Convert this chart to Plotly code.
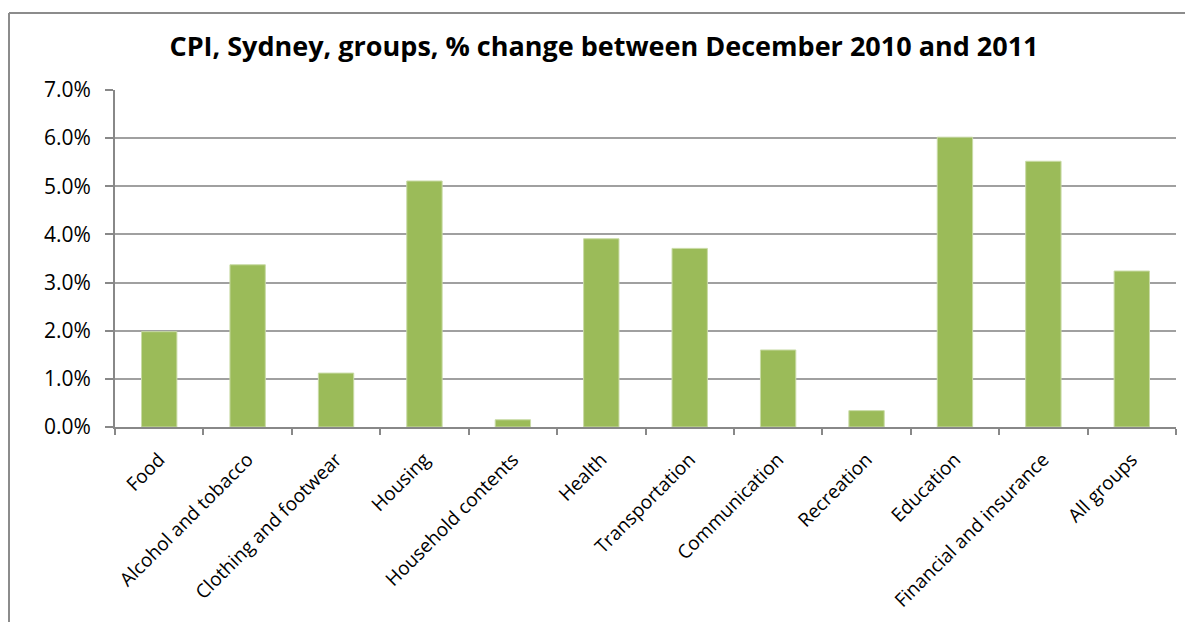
import plotly.graph_objects as go

categories = ["Food", "Alcohol and tobacco", "Clothing and footwear", "Housing",
              "Household contents", "Health", "Transportation", "Communication",
              "Recreation", "Education", "Financial and insurance", "All groups"]
values = [0.0198, 0.0337, 0.0112, 0.0511, 0.0015, 0.0391, 0.0371, 0.0160,
          0.0034, 0.0602, 0.0552, 0.0324]
yticks = [0.0, 0.01, 0.02, 0.03, 0.04, 0.05, 0.06, 0.07]
ytick_labels = ["0.0%", "1.0%", "2.0%", "3.0%", "4.0%", "5.0%", "6.0%", "7.0%"]
title = "CPI, Sydney, groups, % change between December 2010 and 2011"

# page has an 8px body margin
OFF = 8
W, H = 1193 - OFF, 630 - 2 * OFF
L = 115 - OFF
R = W - (1176 - OFF)
T = 90 - OFF
B = H - (427 - OFF)
pw, ph = W - L - R, H - T - B

fig = go.Figure(go.Bar(
    x=categories, y=values,
    marker=dict(color="#9BBB59", line=dict(color="#c9dba6", width=1)),
))

# frame: top edge and left edge only (right/bottom lie outside the window)
bx0 = (1 - L) / pw
bx1 = (W + 80 - L) / pw
by0 = (T + ph - (H + 40)) / ph
by1 = (T + ph - (13 - OFF)) / ph
frame = dict(color="#8c8c8c", width=2)

fig.update_layout(
    width=W, height=H,
    margin=dict(l=L, r=R, t=T, b=B),
    paper_bgcolor="white", plot_bgcolor="white",
    bargap=0.6,
    showlegend=False,
    font=dict(family="Open Sans, sans-serif", color="black"),
    title=dict(text="<b>" + title + "</b>", x=(604 - OFF) / W, xanchor="center",
               y=1 - (47 - OFF) / H, yanchor="middle",
               font=dict(size=27, family="Open Sans, sans-serif", color="black")),
    xaxis=dict(
        tickangle=-45, tickfont=dict(size=19), ticks="outside", tickson="boundaries",
        ticklen=6, tickwidth=2, tickcolor="#888", showline=True, linecolor="#888",
        linewidth=2, showgrid=False, ticklabelstandoff=12, automargin=False,
    ),
    yaxis=dict(
        range=[0, 0.07], tickvals=yticks, ticktext=ytick_labels,
        tickfont=dict(size=21), ticks="outside", ticklen=8, tickwidth=2, tickcolor="#888",
        showline=True, linecolor="#888", linewidth=2, ticklabelstandoff=10,
        showgrid=True, gridcolor="#a0a0a0", gridwidth=2, zeroline=False,
        automargin=False,
    ),
    shapes=[
        dict(type="line", xref="paper", yref="paper", x0=bx0, x1=bx1, y0=by1, y1=by1,
             line=frame, layer="below"),
        dict(type="line", xref="paper", yref="paper", x0=bx0, x1=bx0, y0=by0, y1=by1,
             line=frame, layer="below"),
    ],
)

fig.write_html("out.html")
